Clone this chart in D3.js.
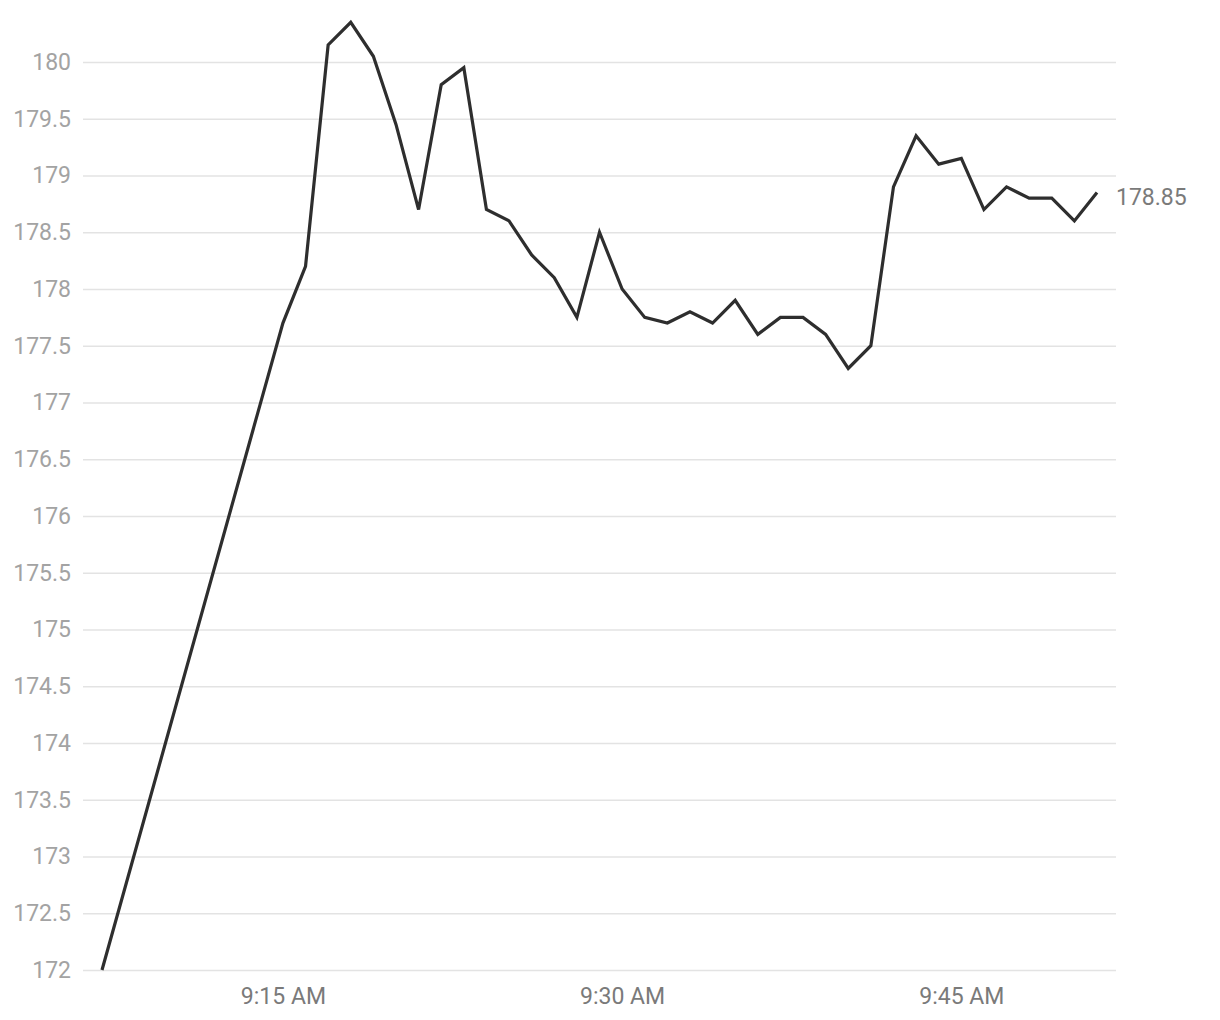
<!DOCTYPE html>
<html>
<head>
<meta charset="utf-8">
<script src="https://cdn.jsdelivr.net/npm/d3@7"></script>
<style>
  body { margin: 0; background: #fff; }
  svg { display: block; font-family: Roboto, "Noto Sans", sans-serif; }
</style>
</head>
<body>
<div id="chart-area"></div>
<script>
// Price by minute (time labels)
var times = ["9:07", "9:15", "9:16", "9:17", "9:18", "9:19", "9:20", "9:21", "9:22", "9:23",
    "9:24", "9:25", "9:26", "9:27", "9:28", "9:29", "9:30", "9:31", "9:32", "9:33",
    "9:34", "9:35", "9:36", "9:37", "9:38", "9:39", "9:40", "9:41", "9:42", "9:43",
    "9:44", "9:45", "9:46", "9:47", "9:48", "9:49", "9:50", "9:51"];
var prices = [172, 177.7, 178.2, 180.15, 180.35, 180.05, 179.45, 178.7, 179.8, 179.95,
    178.7, 178.6, 178.3, 178.1, 177.75, 178.5, 178.0, 177.75, 177.7, 177.8,
    177.7, 177.9, 177.6, 177.75, 177.75, 177.6, 177.3, 177.5, 178.9, 179.35,
    179.1, 179.15, 178.7, 178.9, 178.8, 178.8, 178.6, 178.85];
var yTicks = [172, 172.5, 173, 173.5, 174, 174.5, 175, 175.5, 176, 176.5, 177, 177.5,
    178, 178.5, 179, 179.5, 180];
var xTicks = ["9:15", "9:30", "9:45"];

var width = 1220, height = 1020;
var parseTime = d3.timeParse("%H:%M");

var data = times.map(function(t, i){
    return { time: parseTime(t), price: prices[i] };
});

var svg = d3.select("#chart-area")
    .append("svg")
        .attr("width", width)
        .attr("height", height);

// Scales
var x = d3.scaleTime()
    .domain([parseTime(times[0]), parseTime(times[times.length - 1])])
    .range([102, 1097]);
var y = d3.scaleLinear()
    .domain([172, 180])
    .range([970, 62]);

// Gridlines + y labels
var yAxisCall = d3.axisLeft(y)
    .tickValues(yTicks)
    .tickSize(-(1116 - 83))
    .tickPadding(12)
    .tickFormat(function(d){ return d3.format("")(d); });
var yAxis = svg.append("g")
    .attr("class", "y axis")
    .attr("transform", "translate(83,0)")
    .call(yAxisCall);
yAxis.select(".domain").remove();
yAxis.selectAll("line")
    .attr("stroke", "#e3e3e3")
    .attr("stroke-width", 1.5);
yAxis.selectAll("text")
    .attr("fill", "#a3a3a3")
    .attr("font-size", "23px")
    .attr("font-family", "Roboto, sans-serif");

// X labels
var xAxisCall = d3.axisBottom(x)
    .tickValues(xTicks.map(parseTime))
    .tickSize(0)
    .tickPadding(18)
    .tickFormat(d3.timeFormat("%-I:%M %p"));
var xAxis = svg.append("g")
    .attr("class", "x axis")
    .attr("transform", "translate(0,970)")
    .call(xAxisCall);
xAxis.select(".domain").remove();
xAxis.selectAll("text")
    .attr("fill", "#7a7a7a")
    .attr("font-size", "23px")
    .attr("font-family", "Roboto, sans-serif");

// Price line
var line = d3.line()
    .x(function(d){ return x(d.time); })
    .y(function(d){ return y(d.price); });
svg.append("path")
    .datum(data)
    .attr("fill", "none")
    .attr("stroke", "#2e2e2e")
    .attr("stroke-width", 3.2)
    .attr("stroke-linejoin", "miter")
    .attr("d", line);

// Last value label
var last = data[data.length - 1];
svg.append("text")
    .attr("x", 1116)
    .attr("y", y(last.price) + 4)
    .attr("dy", "0.35em")
    .attr("fill", "#7a7a7a")
    .attr("font-size", "23px")
    .text(last.price);
</script>
</body>
</html>
